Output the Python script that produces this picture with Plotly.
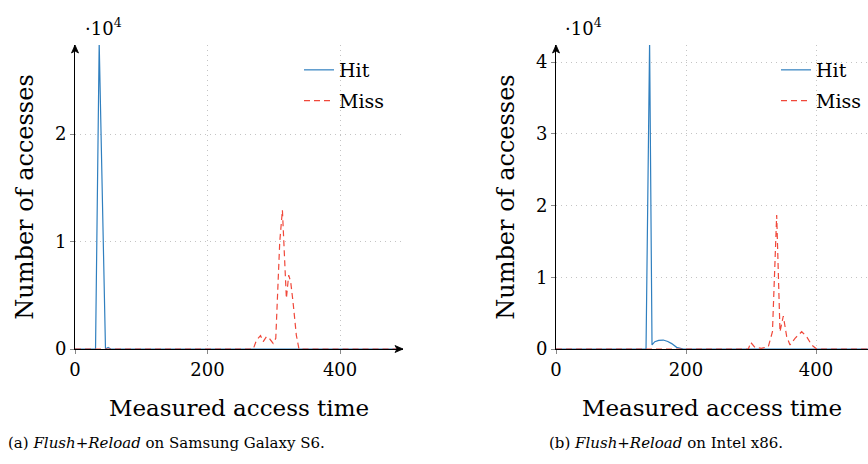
import plotly.graph_objects as go

# ---------------- data ----------------
# (a) Samsung Galaxy S6
a_hit_x = [0, 31, 36.5, 46, 50, 54, 495]
a_hit_y = [0, 0, 28500, 0, 150, 0, 0]
a_miss_x = [0, 269, 274, 280, 284, 289, 294, 299, 303, 309, 313, 316.5, 319, 322.5, 325.5, 329, 334, 338, 495]
a_miss_y = [0, 0, 840, 1240, 680, 1150, 930, 530, 1000, 9980, 12930, 8740, 4710, 6880, 6260, 4400, 1300, 0, 0]

# (b) Intel x86
b_hit_x = [0, 138.5, 144, 147.7, 152, 158, 165, 172, 178, 185.6, 196, 480]
b_hit_y = [0, 0, 42800, 560, 1020, 1200, 1250, 1050, 750, 230, 0, 0]
b_miss_x = [0, 296, 299.5, 306, 316, 326.6, 333, 339.5, 344.6, 349.7, 354.9, 360, 367.7, 378, 385.6, 393.4, 401, 480]
b_miss_y = [0, 0, 930, 230, 100, 320, 2410, 18680, 2410, 4600, 1720, 560, 1490, 2410, 1720, 560, 0, 0]

a_xticks = [0, 200, 400]
a_yticks = [0, 10000, 20000]
a_yticklabels = ["0", "1", "2"]
b_xticks = [0, 200, 400]
b_yticks = [0, 10000, 20000, 30000, 40000]
b_yticklabels = ["0", "1", "2", "3", "4"]

x_title = "Measured access time"
y_title = "Number of accesses"
cap_a = "(a) <i>Flush+Reload</i> on Samsung Galaxy S6."
cap_b = "(b) <i>Flush+Reload</i> on Intel x86."

# ---------------- style ----------------
W, H = 868, 464
FONT = "DejaVu Serif"
BLUE = "#2f7fbf"
RED = "#f0483a"
GRID = "#c4c4c4"

def px_x(p):
    return p / W

def px_y(p):
    return 1 - p / H

fig = go.Figure()

fig.add_trace(go.Scatter(x=a_hit_x, y=a_hit_y, mode="lines", name="Hit",
                         line=dict(color=BLUE, width=1.2), legend="legend", legendgroup="h1",
                         xaxis="x", yaxis="y"))
fig.add_trace(go.Scatter(x=a_miss_x, y=a_miss_y, mode="lines", name="Miss",
                         line=dict(color=RED, width=1.2, dash="6px,4px"), legend="legend", legendgroup="m1",
                         xaxis="x", yaxis="y"))
fig.add_trace(go.Scatter(x=b_hit_x, y=b_hit_y, mode="lines", name="Hit",
                         line=dict(color=BLUE, width=1.2), legend="legend2", legendgroup="h2",
                         xaxis="x2", yaxis="y2"))
fig.add_trace(go.Scatter(x=b_miss_x, y=b_miss_y, mode="lines", name="Miss",
                         line=dict(color=RED, width=1.2, dash="6px,4px"), legend="legend2", legendgroup="m2",
                         xaxis="x2", yaxis="y2"))

y_dom = [px_y(349), px_y(45)]

common_ax = dict(showline=True, linecolor="black", linewidth=1, zeroline=False,
                 showgrid=True, gridcolor=GRID, griddash="1px,4px", gridwidth=1,
                 ticks="outside", ticklen=4, tickcolor="#888",
                 tickfont=dict(family=FONT, size=18, color="black"))

fig.update_layout(
    width=W, height=H,
    margin=dict(l=0, r=0, t=0, b=0, autoexpand=False),
    paper_bgcolor="white", plot_bgcolor="white",
    font=dict(family=FONT, color="black"),
    xaxis=dict(domain=[px_x(75), px_x(403)], range=[0, 495], anchor="y",
               tickvals=a_xticks, title=dict(text=x_title, font=dict(size=23), standoff=21),
               **common_ax),
    yaxis=dict(domain=y_dom, range=[0, 28300], anchor="x",
               tickvals=a_yticks, ticktext=a_yticklabels,
               title=dict(text=y_title, font=dict(size=24), standoff=14),
               **common_ax),
    xaxis2=dict(domain=[px_x(556), 1.0], range=[0, 480], anchor="y2",
                tickvals=b_xticks, title=dict(text=x_title, font=dict(size=23), standoff=21),
                **common_ax),
    yaxis2=dict(domain=y_dom, range=[0, 42370], anchor="x2",
                tickvals=b_yticks, ticktext=b_yticklabels,
                title=dict(text=y_title, font=dict(size=24), standoff=14),
                **common_ax),
    legend=dict(x=px_x(299), y=px_y(51), xanchor="left", yanchor="top",
                bgcolor="rgba(0,0,0,0)", borderwidth=0, tracegroupgap=3,
                font=dict(family=FONT, size=19, color="black")),
    legend2=dict(x=px_x(776), y=px_y(51), xanchor="left", yanchor="top",
                 bgcolor="rgba(0,0,0,0)", borderwidth=0, tracegroupgap=3,
                 font=dict(family=FONT, size=19, color="black")),
    showlegend=True,
)

# axis arrowheads (pixel-sized paths anchored at the axis ends)
up_head = "M -3.5,-8 Q 0,-3 0,0 Q 0,-3 3.5,-8 L 0,-6 Z"
right_head = "M -8,-3.5 Q -3,0 0,0 Q -3,0 -8,3.5 L -6,0 Z"
shapes = []
for xr, yr in (("x domain", "y domain"), ("x2 domain", "y2 domain")):
    shapes.append(dict(type="path", xref=xr, yref=yr, xsizemode="pixel", ysizemode="pixel",
                       xanchor=0, yanchor=1, path="M -3.5,-8 L 0,0 L 3.5,-8 L 0,-6 Z",
                       fillcolor="black", line=dict(color="black", width=0.8)))
shapes.append(dict(type="path", xref="x domain", yref="y domain", xsizemode="pixel", ysizemode="pixel",
                   xanchor=1, yanchor=0, path="M -8,-3.5 L 0,0 L -8,3.5 L -6,0 Z",
                   fillcolor="black", line=dict(color="black", width=0.8)))
fig.update_layout(shapes=shapes)

annotations = []
# exponent labels
annotations.append(dict(xref="paper", yref="paper", x=px_x(83), y=px_y(27), xanchor="left", yanchor="middle",
                        text="·10<sup>4</sup>", showarrow=False, font=dict(family=FONT, size=18)))
annotations.append(dict(xref="paper", yref="paper", x=px_x(563), y=px_y(27), xanchor="left", yanchor="middle",
                        text="·10<sup>4</sup>", showarrow=False, font=dict(family=FONT, size=18)))
# captions
annotations.append(dict(xref="paper", yref="paper", x=px_x(166), y=px_y(443), xanchor="center", yanchor="middle",
                        text=cap_a, showarrow=False, font=dict(family=FONT, size=15)))
annotations.append(dict(xref="paper", yref="paper", x=px_x(666), y=px_y(443), xanchor="center", yanchor="middle",
                        text=cap_b, showarrow=False, font=dict(family=FONT, size=15)))
fig.update_layout(annotations=annotations)

fig.write_html("out.html")
